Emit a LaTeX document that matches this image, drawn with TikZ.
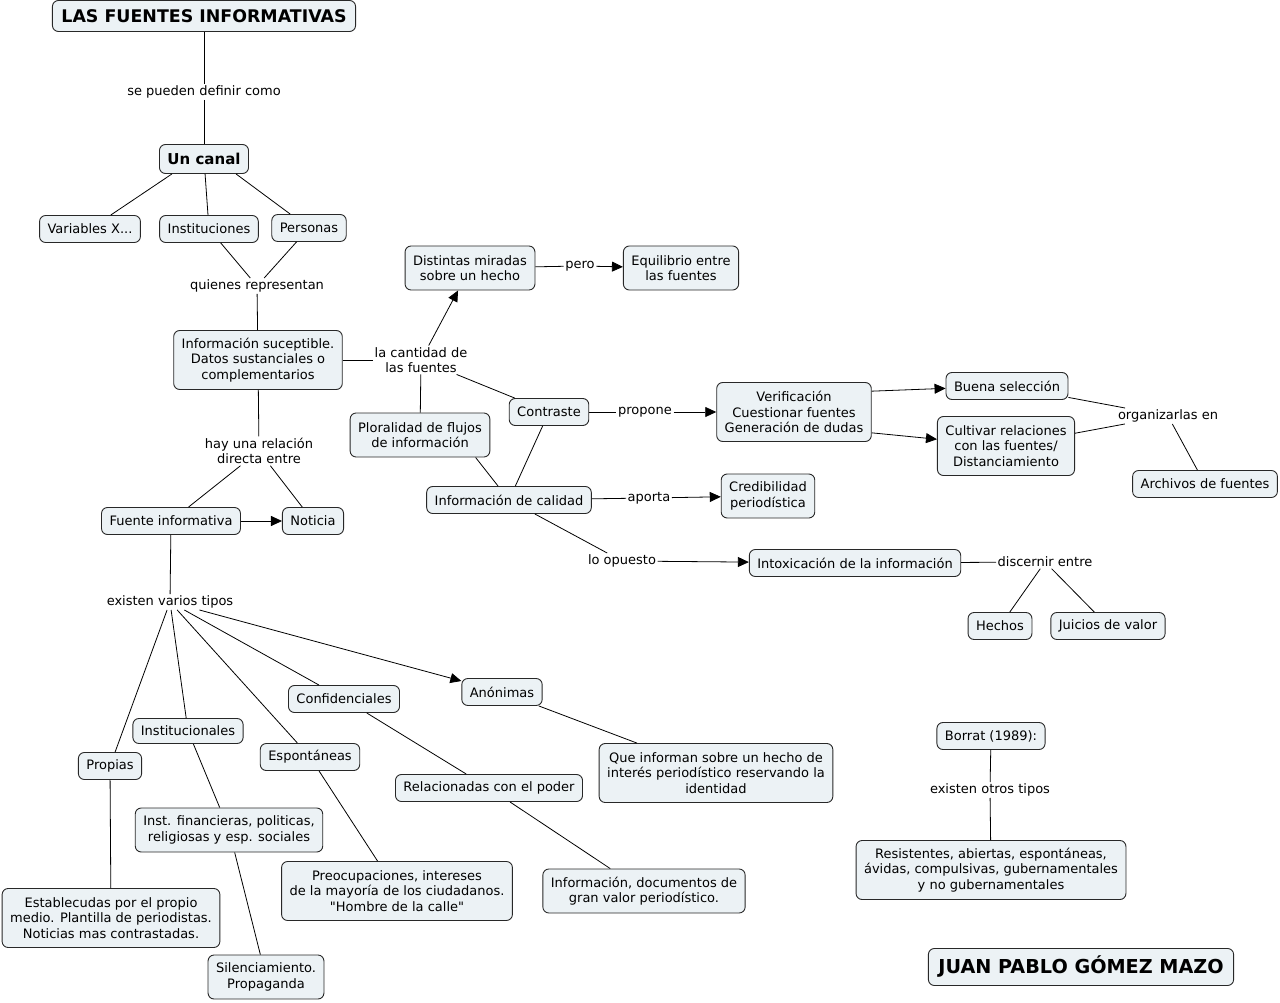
\documentclass[tikz,border=0pt]{standalone}
\usepackage{fontspec}
\setmainfont{DejaVu Sans}
\usetikzlibrary{arrows.meta}

\definecolor{cmapfill}{RGB}{236,242,245}
\definecolor{cmapline}{RGB}{40,40,40}

\tikzset{
  concept/.style={draw=cmapline, fill=cmapfill, rounded corners=6pt, line width=0.9pt,
    align=center, inner xsep=8pt, inner ysep=5pt, minimum height=27pt,
    font=\fontsize{13}{15.5}\selectfont},
  twoline/.style={minimum height=44pt},
  threeline/.style={minimum height=59pt},
  headline/.style={concept, inner xsep=9pt, minimum height=31pt,
    font=\fontsize{17.4}{20}\selectfont\bfseries},
  linkword/.style={inner sep=1.5pt, align=center, font=\fontsize{13}{15.5}\selectfont},
  link/.style={draw=black, line width=0.8pt},
  linkto/.style={link, -{Triangle[length=11pt,width=10pt]}},
}

\begin{document}
\begin{tikzpicture}[x=1pt,y=-1pt]
\useasboundingbox (0,0) rectangle (1280,1003);

% concepts
\node[headline] (fuentes) at (204,16) {LAS FUENTES INFORMATIVAS};
\node[concept, font=\fontsize{15}{18}\selectfont\bfseries, minimum height=29pt] (uncanal) at (204,159) {Un canal};
\node[concept] (variables) at (90,229) {Variables X...};
\node[concept] (instituciones) at (209,229) {Instituciones};
\node[concept] (personas) at (309,228) {Personas};
\node[concept, threeline] (infosusc) at (258,360) {Información suceptible.\\Datos sustanciales o\\complementarios};
\node[concept, twoline] (distintas) at (470,268) {Distintas miradas\\sobre un hecho};
\node[concept, twoline] (equilibrio) at (681,268) {Equilibrio entre\\las fuentes};
\node[concept, twoline] (ploralidad) at (420,435) {Ploralidad de flujos\\de información};
\node[concept] (contraste) at (549,412) {Contraste};
\node[concept, threeline] (verificacion) at (794,412) {Verificación\\Cuestionar fuentes\\Generación de dudas};
\node[concept] (buena) at (1007,386) {Buena selección};
\node[concept, threeline] (cultivar) at (1006,446) {Cultivar relaciones\\con las fuentes/\\Distanciamiento};
\node[concept] (archivos) at (1205,484) {Archivos de fuentes};
\node[concept] (infocalidad) at (509,500) {Información de calidad};
\node[concept, twoline] (credibilidad) at (768,496) {Credibilidad\\periodística};
\node[concept] (intoxicacion) at (855,563) {Intoxicación de la información};
\node[concept] (hechos) at (1000,626) {Hechos};
\node[concept] (juicios) at (1108,626) {Juicios de valor};
\node[concept] (fuente) at (171,521) {Fuente informativa};
\node[concept] (noticia) at (313,521) {Noticia};
\node[concept] (propias) at (110,766) {Propias};
\node[concept, minimum height=25pt] (institucionales) at (188,731) {Institucionales};
\node[concept] (confidenciales) at (344,699) {Confidenciales};
\node[concept] (espontaneas) at (310,757) {Espontáneas};
\node[concept] (anonimas) at (502,692) {Anónimas};
\node[concept, threeline] (establecidas) at (111,918) {Establecudas por el propio\\medio. Plantilla de periodistas.\\Noticias mas contrastadas.};
\node[concept, twoline] (instfin) at (229,830) {Inst. financieras, politicas,\\religiosas y esp. sociales};
\node[concept, twoline] (silenciamiento) at (266,977) {Silenciamiento.\\Propaganda};
\node[concept, threeline] (preocupaciones) at (397,891) {Preocupaciones, intereses\\de la mayoría de los ciudadanos.\\\textquotedbl Hombre de la calle\textquotedbl};
\node[concept] (relacionadas) at (489,788) {Relacionadas con el poder};
\node[concept, twoline] (infodoc) at (644,891) {Información, documentos de\\gran valor periodístico.};
\node[concept, threeline] (queinforman) at (716,773) {Que informan sobre un hecho de\\interés periodístico reservando la\\identidad};
\node[concept] (borrat) at (991,736) {Borrat (1989):};
\node[concept, threeline] (resistentes) at (991,870) {Resistentes, abiertas, espontáneas,\\ávidas, compulsivas, gubernamentales\\y no gubernamentales};
\node[headline, minimum height=37pt, inner xsep=10pt, font=\fontsize{19.2}{22}\selectfont\bfseries] (autor) at (1081,967) {JUAN PABLO GÓMEZ MAZO};

% linking words
\node[linkword] (definir) at (204,92) {se pueden definir como};
\node[linkword] (representan) at (257,286) {quienes representan};
\node[linkword] (cantidad) at (421,360) {la cantidad de\\las fuentes};
\node[linkword] (pero) at (580,266) {pero};
\node[linkword] (propone) at (645,412) {propone};
\node[linkword] (organizarlas) at (1168,416) {organizarlas en};
\node[linkword] (aporta) at (649,498) {aporta};
\node[linkword] (opuesto) at (622,561) {lo opuesto};
\node[linkword] (discernir) at (1045,562) {discernir entre};
\node[linkword] (relacion) at (259,451) {hay una relación\\directa entre};
\node[linkword] (varios) at (170,602) {existen varios tipos};
\node[linkword] (otros) at (990,790) {existen otros tipos};

% connectors
\draw[link] (fuentes) -- (definir);
\draw[link] (definir) -- (uncanal);
\draw[link] (uncanal.205) -- (variables);
\draw[link] (uncanal) -- (instituciones);
\draw[link] (uncanal.-25) -- (personas);
\draw[link] (instituciones) -- (representan);
\draw[link] (personas) -- (representan);
\draw[link] (representan) -- (infosusc);
\draw[link] (infosusc) -- (cantidad);
\draw[linkto] (cantidad) -- (distintas);
\draw[link] (ploralidad) -- (cantidad);
\draw[link] (cantidad) -- (contraste);
\draw[link] (distintas) -- (pero);
\draw[linkto] (pero) -- (equilibrio);
\draw[link] (contraste) -- (propone);
\draw[linkto] (propone) -- (verificacion);
\draw[linkto] (verificacion.15) -- (buena);
\draw[linkto] (verificacion.-15) -- (cultivar);
\draw[link] (buena) -- (organizarlas);
\draw[link] (cultivar) -- (organizarlas);
\draw[link] (organizarlas) -- (archivos);
\draw[link] (contraste) -- (infocalidad);
\draw[link] (ploralidad.-22) -- (infocalidad);
\draw[link] (infocalidad) -- (aporta);
\draw[linkto] (aporta) -- (credibilidad);
\draw[link] (infocalidad) -- (opuesto);
\draw[linkto] (opuesto) -- (intoxicacion);
\draw[link] (intoxicacion) -- (discernir);
\draw[link] (discernir) -- (hechos);
\draw[link] (discernir) -- (juicios);
\draw[link] (infosusc) -- (relacion);
\draw[link] (relacion) -- (fuente);
\draw[link] (relacion) -- (noticia);
\draw[linkto] (fuente) -- (noticia);
\draw[link] (fuente) -- (varios);
\draw[link] (varios) -- (propias);
\draw[link] (varios) -- (institucionales);
\draw[link] (varios) -- (espontaneas);
\draw[link] (varios) -- (confidenciales);
\draw[linkto] (varios) -- (anonimas);
\draw[link] (propias) -- (establecidas);
\draw[link] (institucionales) -- (instfin);
\draw[link] (instfin) -- (silenciamiento);
\draw[link] (espontaneas) -- (preocupaciones);
\draw[link] (confidenciales) -- (relacionadas);
\draw[link] (relacionadas) -- (infodoc);
\draw[link] (anonimas) -- (queinforman);
\draw[link] (borrat) -- (otros);
\draw[link] (otros) -- (resistentes);
\end{tikzpicture}
\end{document}
